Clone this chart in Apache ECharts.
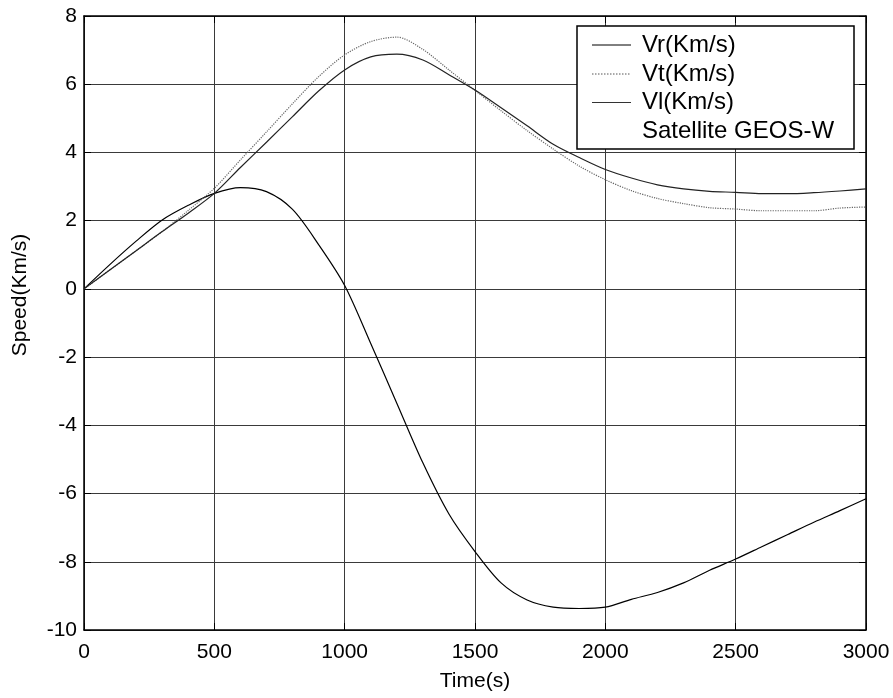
<!DOCTYPE html>
<html>
<head>
<meta charset="utf-8">
<script src="https://cdn.jsdelivr.net/npm/echarts@6/dist/echarts.min.js"></script>
<style>
  html, body { margin: 0; padding: 0; background: #fff; }
  #chart { width: 893px; height: 698px; }
</style>
</head>
<body>
<div id="chart"></div>
<script>
// Time samples (s)
const times = [0, 100, 200, 300, 400, 500, 600, 700, 800, 900, 1000,
  1100, 1200, 1300, 1400, 1500, 1600, 1700, 1800, 1900, 2000,
  2100, 2200, 2300, 2400, 2500, 2600, 2700, 2800, 2900, 3000];

// Velocity components (Km/s)
const vr = [0, 0.72, 1.4, 2.02, 2.45, 2.8, 2.97, 2.85, 2.33, 1.3, 0.1,
  -1.6, -3.35, -5.1, -6.6, -7.7, -8.62, -9.12, -9.33, -9.37, -9.33,
  -9.1, -8.9, -8.62, -8.25, -7.92, -7.56, -7.2, -6.84, -6.5, -6.15];
const vt = [0, 0.56, 1.12, 1.68, 2.3, 2.95, 3.78, 4.6, 5.43, 6.22, 6.86,
  7.25, 7.38, 7.02, 6.42, 5.82, 5.22, 4.64, 4.1, 3.6, 3.2,
  2.88, 2.65, 2.5, 2.38, 2.34, 2.29, 2.29, 2.29, 2.37, 2.4];
const vl = [0, 0.56, 1.12, 1.68, 2.22, 2.8, 3.56, 4.3, 5.05, 5.8, 6.42,
  6.8, 6.88, 6.71, 6.28, 5.83, 5.31, 4.78, 4.24, 3.85, 3.5,
  3.25, 3.05, 2.93, 2.86, 2.83, 2.79, 2.79, 2.82, 2.87, 2.93];

const legendNames = ['Vr(Km/s)', 'Vt(Km/s)', 'Vl(Km/s)', 'Satellite GEOS-W'];
const xTitle = 'Time(s)';
const yTitle = 'Speed(Km/s)';

const FONT = 'Liberation Sans, Arial, Helvetica, sans-serif';
const pairs = (ys) => times.map((t, i) => [t, ys[i]]);

const chart = echarts.init(document.getElementById('chart'), null, { renderer: 'canvas' });

const frameAxis = {
  axisLine: { show: true, onZero: false, lineStyle: { color: '#000', width: 1.5 } },
  axisTick: { show: true, inside: true, length: 7, lineStyle: { color: '#000' } },
  splitLine: { show: false },
  axisLabel: { show: false }
};

const series = [
  { name: legendNames[0], data: pairs(vr), color: '#000', type: 'solid' },
  { name: legendNames[1], data: pairs(vt), color: '#666', type: 'dotted' },
  { name: legendNames[2], data: pairs(vl), color: '#222', type: 'solid' }
].map(s => ({
  name: s.name,
  type: 'line',
  data: s.data,
  xAxisIndex: 0,
  yAxisIndex: 0,
  showSymbol: false,
  smooth: 0.3,
  lineStyle: { color: s.color, width: 1.2, type: s.type },
  z: 3
}));

// Legend box in the upper right corner
const lx = 577, ly = 26, lw = 277, lh = 123;
const rows = [45, 74, 102.5, 131];
const legendGraphics = [
  { type: 'rect', shape: { x: lx, y: ly, width: lw, height: lh },
    style: { fill: '#fff', stroke: '#000', lineWidth: 1.5 }, z: 100 }
];
const sampleStyles = [
  { stroke: '#000', lineDash: null },
  { stroke: '#555', lineDash: [1.5, 1.5] },
  { stroke: '#333', lineDash: null }
];
sampleStyles.forEach((st, i) => {
  legendGraphics.push({
    type: 'line', shape: { x1: 592, y1: rows[i], x2: 631, y2: rows[i] },
    style: { stroke: st.stroke, lineWidth: 1, lineDash: st.lineDash }, z: 101
  });
});
legendNames.forEach((n, i) => {
  legendGraphics.push({
    type: 'text', x: 642, y: rows[i],
    style: { text: n, fill: '#000', font: '24px ' + FONT, textVerticalAlign: 'middle', textAlign: 'left' },
    z: 101
  });
});

chart.setOption({
  animation: false,
  backgroundColor: '#fff',
  grid: { left: 84, top: 16, right: 27, bottom: 68 },
  xAxis: [
    {
      type: 'value', min: 0, max: 3000, interval: 500,
      axisLine: { show: true, onZero: false, lineStyle: { color: '#000', width: 1.5 } },
      axisTick: { show: true, inside: true, length: 7, lineStyle: { color: '#000' } },
      axisLabel: { color: '#000', fontSize: 21, fontFamily: FONT, margin: 12,
        formatter: (v) => String(v) },
      splitLine: { show: true, lineStyle: { color: '#3a3a3a', width: 1 } }
    },
    Object.assign({ type: 'value', position: 'top', min: 0, max: 3000, interval: 500 }, frameAxis)
  ],
  yAxis: [
    {
      type: 'value', min: -10, max: 8, interval: 2,
      axisLine: { show: true, onZero: false, lineStyle: { color: '#000', width: 1.5 } },
      axisTick: { show: true, inside: true, length: 7, lineStyle: { color: '#000' } },
      axisLabel: { color: '#000', fontSize: 21, fontFamily: FONT, margin: 7,
        formatter: (v) => String(v) },
      splitLine: { show: true, lineStyle: { color: '#3a3a3a', width: 1 } }
    },
    Object.assign({ type: 'value', position: 'right', min: -10, max: 8, interval: 2 }, frameAxis)
  ],
  series: series,
  graphic: [
    { type: 'text', x: 475, y: 681,
      style: { text: xTitle, fill: '#000', font: '21px ' + FONT, textAlign: 'center', textVerticalAlign: 'middle' } },
    { type: 'text', x: 20, y: 295, rotation: Math.PI / 2,
      style: { text: yTitle, fill: '#000', font: '21px ' + FONT, textAlign: 'center', textVerticalAlign: 'middle' } }
  ].concat(legendGraphics)
});
</script>
</body>
</html>
